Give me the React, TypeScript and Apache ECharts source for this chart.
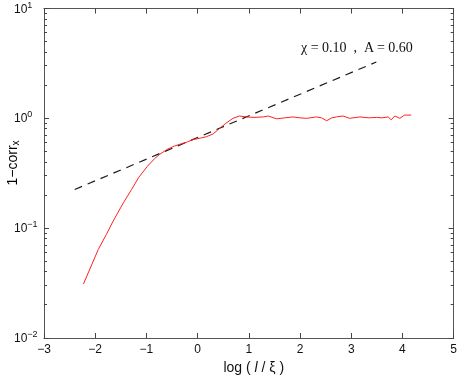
import React, { useEffect, useRef } from "react";
import * as echarts from "echarts";

// Red curve: log(l/ξ) vs 1-corr_x
const curveX = [
  -2.23, -1.94, -1.78, -1.65, -1.45, -1.29, -1.15, -0.98, -0.84, -0.74, -0.6,
  -0.45, -0.35, -0.2, -0.09, 0.05, 0.17, 0.3, 0.43, 0.55, 0.69, 0.82, 0.95,
  1.1, 1.28, 1.38, 1.54, 1.7, 1.86, 2.0, 2.13, 2.32, 2.42, 2.52, 2.62, 2.71,
  2.84, 2.97, 3.17, 3.35, 3.49, 3.6, 3.72, 3.78, 3.85, 3.95, 4.04, 4.17,
];
const curveY = [
  0.031, 0.064, 0.088, 0.116, 0.17, 0.225, 0.29, 0.366, 0.43, 0.47, 0.52,
  0.56, 0.58, 0.61, 0.64, 0.66, 0.68, 0.72, 0.81, 0.9, 1.0, 1.05, 1.03, 1.02,
  1.03, 1.05, 0.99, 1.01, 1.03, 1.01, 1.0, 1.03, 1.01, 0.95, 1.01, 1.03, 1.05,
  1.0, 1.03, 1.01, 1.02, 1.01, 1.03, 0.97, 1.05, 1.0, 1.07, 1.07,
];

// Dashed power-law fit line
const fitX = [-2.4, 3.49];
const fitY = [0.225, 3.26];

// Axis ranges
const xMin = -3;
const xMax = 5;
const yMin = 0.01;
const yMax = 10;

// Minor tick values for the log axis
const minorMultipliers = [2, 3, 4, 5, 6, 7, 8, 9];
const decades = [0.01, 0.1, 1];

const fitLabel = "χ = 0.10  ,  A = 0.60";

const AXIS_COLOR = "#555555";
const TICK_COLOR = "#444444";
const SANS = "'Liberation Sans', Arial, sans-serif";

export default function App() {
  const ref = useRef<HTMLDivElement>(null);

  useEffect(() => {
    if (!ref.current) return;
    const chart = echarts.init(ref.current, undefined, { renderer: "svg" });

    const minorData: number[][] = [];
    decades.forEach((d) =>
      minorMultipliers.forEach((m) => minorData.push([xMin, m * d]))
    );

    const fmtNum = (v: number) => (v < 0 ? "−" + Math.abs(v) : String(v));
    const tick = { show: true, inside: true, length: 5, lineStyle: { color: TICK_COLOR, width: 1 } };
    const line = { show: true, onZero: false, lineStyle: { color: AXIS_COLOR, width: 1 } };

    const option: any = {
      animation: false,
      grid: { left: 44, top: 8, right: 6, bottom: 41 },
      xAxis: [
        {
          type: "value",
          min: xMin,
          max: xMax,
          interval: 1,
          position: "bottom",
          axisLine: line,
          axisTick: tick,
          axisLabel: {
            formatter: fmtNum,
            fontSize: 12,
            fontFamily: SANS,
            color: "#111",
            margin: 5,
          },
          splitLine: { show: false },
          name: "log ( {i|l} / ξ )",
          nameLocation: "middle",
          nameGap: 21,
          nameTextStyle: {
            fontSize: 14,
            fontFamily: SANS,
            color: "#111",
            padding: [0, 0, 0, 10],
            rich: {
              i: { fontSize: 14, fontFamily: SANS, fontStyle: "italic", color: "#111" },
            },
          },
        },
        {
          type: "value",
          min: xMin,
          max: xMax,
          interval: 1,
          position: "top",
          axisLine: line,
          axisTick: tick,
          axisLabel: { show: false },
          splitLine: { show: false },
        },
      ],
      yAxis: [
        {
          type: "log",
          logBase: 10,
          min: yMin,
          max: yMax,
          position: "left",
          axisLine: line,
          axisTick: tick,
          axisLabel: {
            align: "left",
            margin: 30,
            formatter: (v: number) => {
              const e = Math.round(Math.log10(v));
              const es = e < 0 ? "−" + Math.abs(e) : String(e);
              return "{b|10}{e|" + es + "}";
            },
            rich: {
              b: { fontSize: 12, fontFamily: SANS, color: "#111" },
              e: { fontSize: 9, fontFamily: SANS, color: "#111", padding: [0, 0, 8, 0] },
            },
          },
          splitLine: { show: false },
        },
        {
          type: "log",
          logBase: 10,
          min: yMin,
          max: yMax,
          position: "right",
          axisLine: line,
          axisTick: tick,
          axisLabel: { show: false },
          splitLine: { show: false },
        },
      ],
      series: [
        {
          name: "fit",
          type: "line",
          data: fitX.map((x, i) => [x, fitY[i]]),
          showSymbol: false,
          symbol: "none",
          lineStyle: { color: "#1a1a1a", width: 1.2, type: [8, 6] },
          silent: true,
          z: 2,
        },
        {
          name: "curve",
          type: "line",
          data: curveX.map((x, i) => [x, curveY[i]]),
          showSymbol: false,
          symbol: "none",
          lineStyle: { color: "#ff2020", width: 1 },
          silent: true,
          z: 3,
        },
        {
          name: "minorL",
          type: "custom",
          clip: false,
          silent: true,
          data: minorData,
          encode: { x: 0, y: 1 },
          z: 10,
          renderItem: (params: any, api: any) => {
            const p = api.coord([xMin, api.value(1)]);
            const y = Math.round(p[1] - 0.5) + 0.5;
            return {
              type: "line",
              shape: { x1: p[0], y1: y, x2: p[0] + 3, y2: y },
              style: { stroke: TICK_COLOR, lineWidth: 1 },
            };
          },
        },
        {
          name: "minorR",
          type: "custom",
          clip: false,
          silent: true,
          data: minorData,
          encode: { x: 0, y: 1 },
          z: 10,
          renderItem: (params: any, api: any) => {
            const p = api.coord([xMax, api.value(1)]);
            const y = Math.round(p[1] - 0.5) + 0.5;
            return {
              type: "line",
              shape: { x1: p[0], y1: y, x2: p[0] - 3, y2: y },
              style: { stroke: TICK_COLOR, lineWidth: 1 },
            };
          },
        },
      ],
      graphic: [
        {
          type: "text",
          x: 301,
          y: 47,
          style: {
            text: fitLabel,
            font: "14px 'Liberation Serif', 'Times New Roman', serif",
            fill: "#111",
            align: "left",
            verticalAlign: "middle",
          },
        },
        {
          type: "text",
          x: 12,
          y: 163,
          rotation: Math.PI / 2,
          style: {
            text: "{a|1−corr}{s|x}",
            align: "center",
            verticalAlign: "middle",
            rich: {
              a: { fontSize: 14, fontFamily: SANS, color: "#111" },
              s: { fontSize: 10, fontFamily: SANS, color: "#111", padding: [6, 0, 0, 0] },
            },
          },
        },
      ],
    };

    chart.setOption(option);
    return () => chart.dispose();
  }, []);

  return (
    <div
      ref={ref}
      style={{ position: "fixed", left: 0, top: 0, width: 460, height: 379 }}
    />
  );
}
